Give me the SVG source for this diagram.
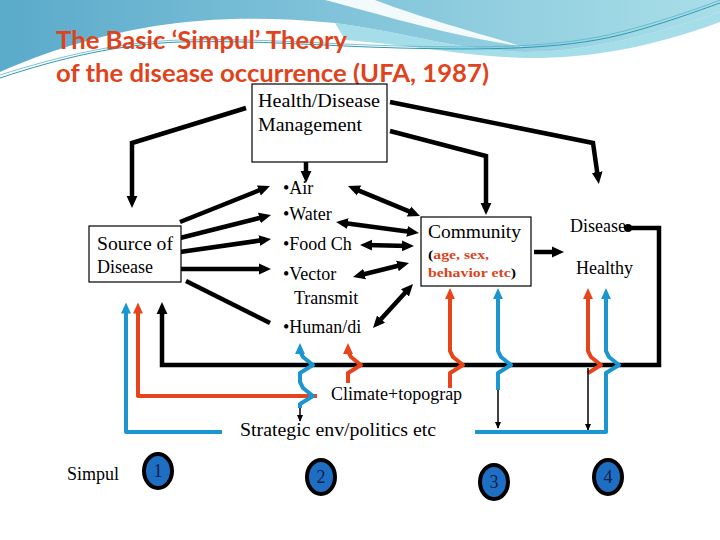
<svg xmlns="http://www.w3.org/2000/svg" width="720" height="540" viewBox="0 0 720 540">
<style>
.t{font-family:"Liberation Serif","Times New Roman",serif;font-size:18px;fill:#000}
.ttl{font-family:Lato,"Liberation Sans",sans-serif;font-weight:bold;font-size:25px;fill:#e0431b}
.box{fill:#fff;stroke:#000;stroke-width:1.2}
.k{fill:none;stroke:#000;stroke-width:4.5;stroke-linejoin:miter}
.b{fill:none;stroke:#1b96d1;stroke-width:4;stroke-linejoin:round}
.r{fill:none;stroke:#e8441c;stroke-width:4;stroke-linejoin:round}
.thin{fill:none;stroke:#000;stroke-width:1.5}
.num{fill:#1e6fc4;stroke:#000;stroke-width:4}
.nt{font-family:"Liberation Serif","Times New Roman",serif;font-size:18px;fill:#14204a;text-anchor:middle}
.sub{font-family:"Liberation Serif","Times New Roman",serif;font-size:13px;font-weight:bold;fill:#d9441c}
</style>
<defs>
<linearGradient id="gb" x1="0" y1="0" x2="1" y2="0">
<stop offset="0" stop-color="#5aaaca"/><stop offset="0.45" stop-color="#7fc2d9"/><stop offset="1" stop-color="#a9dee8"/>
</linearGradient>
<marker id="ak" viewBox="0 0 10 10" refX="5" refY="5" markerWidth="12" markerHeight="12" markerUnits="userSpaceOnUse" orient="auto-start-reverse"><path d="M0,0.5 L10,5 L0,9.5 Z" fill="#000"/></marker>
<marker id="ab" viewBox="0 0 10 10" refX="5" refY="5" markerWidth="11" markerHeight="11" markerUnits="userSpaceOnUse" orient="auto-start-reverse"><path d="M0,0.5 L10,5 L0,9.5 Z" fill="#1b96d1"/></marker>
<marker id="ar" viewBox="0 0 10 10" refX="5" refY="5" markerWidth="11" markerHeight="11" markerUnits="userSpaceOnUse" orient="auto-start-reverse"><path d="M0,0.5 L10,5 L0,9.5 Z" fill="#e8441c"/></marker>
<marker id="at" viewBox="0 0 10 10" refX="9" refY="5" markerWidth="7" markerHeight="7" markerUnits="userSpaceOnUse" orient="auto"><path d="M0,0.5 L10,5 L0,9.5 Z" fill="#000"/></marker>
</defs>
<rect width="720" height="540" fill="#fff"/>
<g id="header">
<path d="M0,0 H720 V12 C640,40 575,52 525,52 C455,50 405,32 335,23 C265,16 205,18 155,26 C95,36 45,52 0,72 Z" fill="url(#gb)"/>
<path d="M335,23 C405,32 455,50 525,52 C575,52 640,40 720,12 V22 C650,48 590,58 530,58 C470,57 420,46 345,40 Z" fill="#7fd0df" opacity="0.7"/>
<path d="M325,0 C380,14 440,34 525,47 C465,30 405,12 375,0 Z" fill="#fff" opacity="0.9"/>
<path d="M0,78 C60,58 120,44 180,42 C260,40 320,46 400,48 C480,50 560,50 620,35 C660,25 700,10 720,3" fill="none" stroke="#2f98b3" stroke-width="1"/>
<path d="M0,75 C60,56 120,42 180,40 C260,38 320,44 400,46 C480,48 560,48 620,32 C660,22 700,8 720,0" fill="none" stroke="#5bb3c9" stroke-width="0.8"/>
</g>
<g id="title">
<text class="ttl" x="56" y="49" textLength="291" lengthAdjust="spacingAndGlyphs">The Basic ‘Simpul’ Theory</text>
<text class="ttl" x="56" y="82" textLength="433" lengthAdjust="spacingAndGlyphs">of the disease occurrence (UFA, 1987)</text>
</g>
<g id="connectors">
<path class="k" d="M246,108 L132,143 L132,202" marker-end="url(#ak)"/>
<path class="k" d="M306,162 L306,177" marker-end="url(#ak)"/>
<path class="k" d="M390,102 L593,143 L598,178" marker-end="url(#ak)"/>
<path class="k" d="M390,131 L486,156 L486,209" marker-end="url(#ak)"/>
<path class="k" d="M180,222 L264.4,188.2" marker-end="url(#ak)"/>
<path class="k" d="M180,238 L265.2,216.5" marker-end="url(#ak)"/>
<path class="k" d="M180,252 L265.1,239.8" marker-end="url(#ak)"/>
<path class="k" d="M180,269 L265,269" marker-end="url(#ak)"/>
<path class="k" d="M186,281 L270,323"/>
<path class="k" d="M353.5,188.3 L414.5,213.7" marker-start="url(#ak)" marker-end="url(#ak)"/>
<path class="k" d="M342,222.8 L413,232.2" marker-start="url(#ak)" marker-end="url(#ak)"/>
<path class="k" d="M366,245.1 L408,245.9" marker-start="url(#ak)" marker-end="url(#ak)"/>
<path class="k" d="M358.8,275.5 L403.2,264.5" marker-start="url(#ak)" marker-end="url(#ak)"/>
<path class="k" d="M377,323.6 L409,288.4" marker-start="url(#ak)" marker-end="url(#ak)"/>
<path class="k" d="M534,252 L558,252" marker-end="url(#ak)"/>
<circle cx="628" cy="228" r="4" fill="#000"/>
<path class="k" d="M628,228 H659 V365 H162 V308" marker-end="url(#ak)"/>
<path class="b" d="M222,432 H126 V308" marker-end="url(#ab)"/>
<path class="r" d="M317,396 H138 V308" marker-end="url(#ar)"/>
<path class="b" d="M300,348.5 V351 L303,357 L313,365 L300,373 V382 L303,388 L313,396 L300,404 V408" marker-start="url(#ab)"/>
<path class="thin" d="M300,408 V421" marker-end="url(#at)"/>
<path class="r" d="M348,348.5 V351 L351,357 L361,365 L348,373 V383" marker-start="url(#ar)"/>
<path class="r" d="M450,293.5 V351 L453,357 L463,365 L450,373 V388" marker-start="url(#ar)"/>
<path class="b" d="M498,293.5 V351 L501,357 L511,365 L498,373 V390" marker-start="url(#ab)"/>
<path class="thin" d="M498,390 V428" marker-end="url(#at)"/>
<path class="r" d="M588,293.5 V351 L591,357 L601,365 L588,373" marker-start="url(#ar)"/>
<path class="thin" d="M588,368 V430" marker-end="url(#at)"/>
<path class="b" d="M475,432 H606 V373 L619,365 L609,357 L606,351 V293.5" marker-end="url(#ab)"/>
</g>
<g id="hdm">
<rect class="box" x="252" y="84" width="135" height="78"/>
<text class="t" x="258" y="107" font-size="19" textLength="122" lengthAdjust="spacingAndGlyphs">Health/Disease</text>
<text class="t" x="258" y="131" font-size="19" textLength="104" lengthAdjust="spacingAndGlyphs">Management</text>
</g>
<g id="source">
<rect class="box" x="89" y="226" width="92" height="56"/>
<text class="t" x="97" y="250" font-size="19" textLength="76" lengthAdjust="spacingAndGlyphs">Source of</text>
<text class="t" x="97" y="273" font-size="19">Disease</text>
</g>
<g id="factors">
<text class="t" x="283" y="194">•Air</text>
<text class="t" x="283" y="220">•Water</text>
<text class="t" x="283" y="250">•Food Ch</text>
<text class="t" x="283" y="280">•Vector</text>
<text class="t" x="294" y="304">Transmit</text>
<text class="t" x="283" y="333">•Human/di</text>
</g>
<g id="community">
<rect class="box" x="421" y="217" width="110" height="69"/>
<text class="t" x="428" y="238" font-size="18" textLength="93" lengthAdjust="spacingAndGlyphs">Community</text>
<text class="sub" x="428" y="259" textLength="61" lengthAdjust="spacingAndGlyphs"><tspan fill="#000">(</tspan>age, sex,</text>
<text class="sub" x="428" y="277" textLength="88" lengthAdjust="spacingAndGlyphs">behavior etc<tspan fill="#000">)</tspan></text>
</g>
<g id="outcome">
<text class="t" x="570" y="232" font-size="19">Disease</text>
<text class="t" x="576" y="274" font-size="19">Healthy</text>
</g>
<g id="climate">
<text class="t" x="331" y="400">Climate+topograp</text>
</g>
<g id="strategic">
<text class="t" x="240" y="436" textLength="196" lengthAdjust="spacingAndGlyphs">Strategic env/politics etc</text>
</g>
<g id="simpul">
<text class="t" x="67" y="480" font-size="19">Simpul</text>
<g id="s1"><ellipse class="num" cx="158" cy="471" rx="14" ry="17"/><text class="nt" x="158" y="477">1</text></g>
<g id="s2"><ellipse class="num" cx="321" cy="477" rx="14" ry="17"/><text class="nt" x="321" y="483">2</text></g>
<g id="s3"><ellipse class="num" cx="494" cy="482" rx="14" ry="17"/><text class="nt" x="494" y="488">3</text></g>
<g id="s4"><ellipse class="num" cx="608" cy="477" rx="14" ry="17"/><text class="nt" x="608" y="483">4</text></g>
</g>
</svg>
